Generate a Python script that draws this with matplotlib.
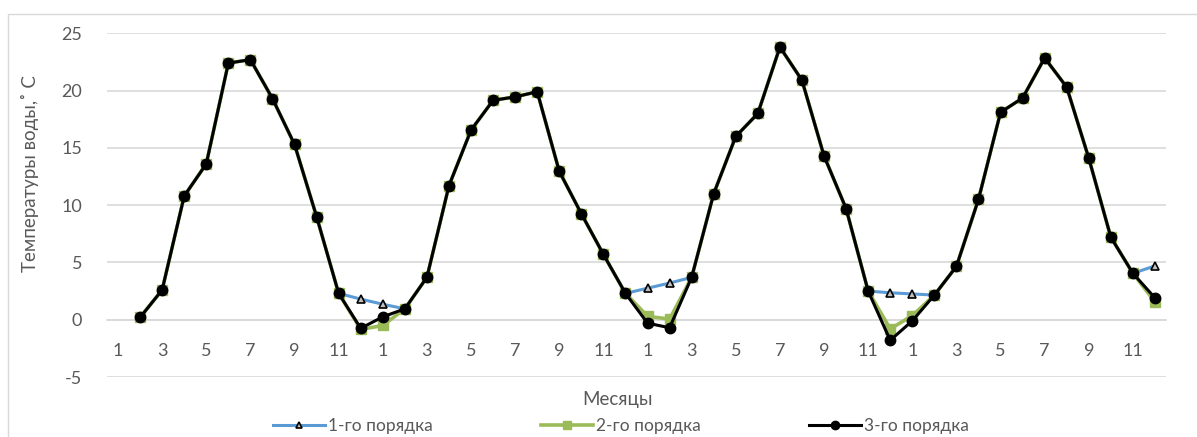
import numpy as np
import matplotlib
matplotlib.use('Agg')
import matplotlib.pyplot as plt
from matplotlib.patches import Rectangle

plt.rcParams['font.family'] = ['Lato', 'DejaVu Sans']
plt.rcParams['axes.unicode_minus'] = False

# Месяцы: 4 года по 12 месяцев
months = [1, 2, 3, 4, 5, 6, 7, 8, 9, 10, 11, 12] * 4

nan = np.nan
# Температуры воды, восстановленные разными порядками
order1 = [nan, 0.2, 2.6, 10.8, 13.6, 22.4, 22.7, 19.3, 15.3, 9.0, 2.3, 1.8,
          1.35, 0.95, 3.7, 11.7, 16.55, 19.15, 19.45, 19.9, 12.95, 9.25, 5.7, 2.3,
          2.75, 3.2, 3.7, 11.0, 16.0, 18.0, 23.8, 20.9, 14.3, 9.7, 2.5, 2.35,
          2.25, 2.15, 4.65, 10.5, 18.1, 19.35, 22.85, 20.3, 14.1, 7.2, 4.05, 4.7]
order2 = [nan, 0.2, 2.6, 10.8, 13.6, 22.4, 22.7, 19.3, 15.3, 9.0, 2.3, -0.85,
          -0.5, 0.95, 3.7, 11.7, 16.55, 19.15, 19.45, 19.9, 12.95, 9.25, 5.7, 2.3,
          0.3, 0.05, 3.7, 11.0, 16.0, 18.0, 23.8, 20.9, 14.3, 9.7, 2.5, -0.8,
          0.35, 2.15, 4.65, 10.5, 18.1, 19.35, 22.85, 20.3, 14.1, 7.2, 4.05, 1.55]
order3 = [nan, 0.2, 2.6, 10.8, 13.6, 22.4, 22.7, 19.3, 15.3, 9.0, 2.3, -0.75,
          0.25, 0.95, 3.7, 11.7, 16.55, 19.15, 19.45, 19.9, 12.95, 9.25, 5.7, 2.3,
          -0.3, -0.7, 3.7, 11.0, 16.0, 18.0, 23.8, 20.9, 14.3, 9.7, 2.5, -1.8,
          -0.1, 2.15, 4.65, 10.5, 18.1, 19.35, 22.85, 20.3, 14.1, 7.2, 4.05, 1.9]

x = np.arange(len(months))

fig = plt.figure(figsize=(11.97, 4.37), dpi=100)
W, H = 1197, 437
ax = fig.add_axes([107 / W, (H - 377) / H, 1059 / W, (377 - 33.3) / H])

# рамка области диаграммы
fig.patches.append(Rectangle((8 / W, -0.1), 1.2, (H - 14) / H + 0.1,
                             transform=fig.transFigure, fill=False,
                             edgecolor='#d9d9d9', linewidth=1))

ax.plot(x, order1, color='#5b9bd5', linewidth=2.2, marker='^', markersize=6,
        markerfacecolor='#bfbfbf', markeredgecolor='black', markeredgewidth=1.2,
        label='1-го порядка', zorder=3)
ax.plot(x, order2, color='#9bbb59', linewidth=2.6, marker='s', markersize=7,
        markerfacecolor='#9bbb59', markeredgecolor='#9bbb59',
        label='2-го порядка', zorder=4)
ax.plot(x, order3, color='black', linewidth=2.2, marker='o', markersize=7.5,
        markerfacecolor='black', markeredgecolor='black',
        label='3-го порядка', zorder=5)

ax.set_xlim(-0.5, len(months) - 0.5)
ax.set_ylim(-5, 25)
ax.set_yticks(range(-5, 30, 5))
ax.set_xticks(x[::2])
ax.set_xticklabels([str(m) for m in months[::2]])
ax.grid(axis='y', color='#d9d9d9', linewidth=1.2)
ax.set_axisbelow(True)
for s in ['top', 'right', 'left']:
    ax.spines[s].set_visible(False)
ax.spines['bottom'].set_position(('data', 0))
ax.spines['bottom'].set_color('#d9d9d9')
ax.spines['bottom'].set_linewidth(1.2)
ax.tick_params(axis='x', length=0, pad=17, labelsize=13, labelcolor='#595959')
ax.tick_params(axis='y', length=0, pad=18, labelsize=13, labelcolor='#595959')

fig.text(30 / W, 1 - 174 / H, 'Температуры воды,˚ С', rotation=90,
         ha='center', va='center', fontsize=13.5, color='#595959')
fig.text(617 / W, 1 - 400 / H, 'Месяцы', ha='center', va='center',
         fontsize=13.5, color='#595959')

leg = fig.legend(loc='center', bbox_to_anchor=(621 / W, 1 - 426 / H), ncol=3,
                 frameon=False, fontsize=12.5, handlelength=3.0, columnspacing=6.2,
                 handletextpad=0.2, borderaxespad=0, markerscale=0.8)
for t in leg.get_texts():
    t.set_color('#595959')

fig.savefig('out.png', dpi=100)
